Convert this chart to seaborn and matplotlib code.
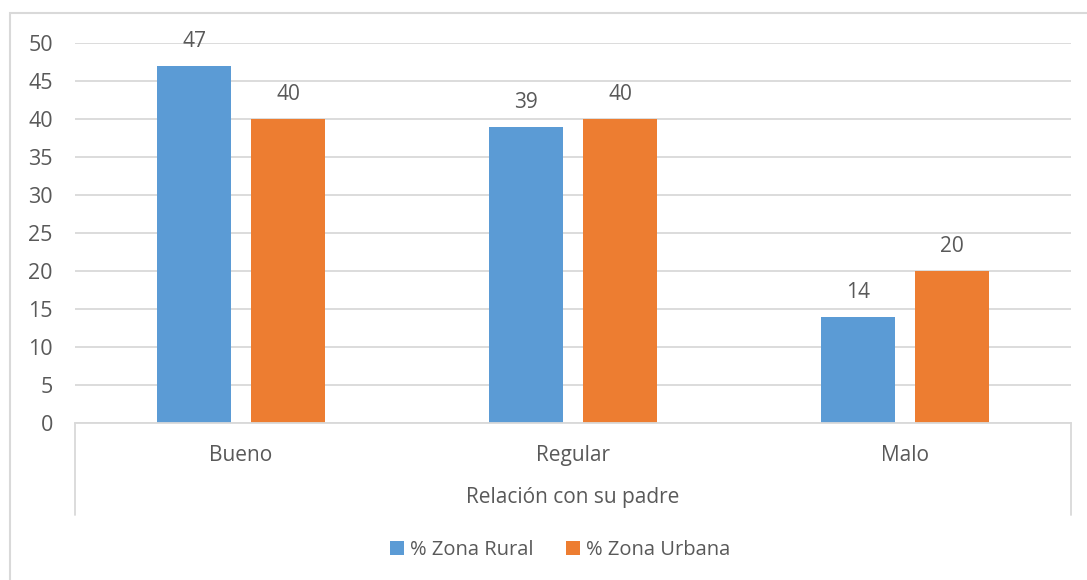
import matplotlib
matplotlib.use("Agg")
import matplotlib.pyplot as plt
import seaborn as sns
import pandas as pd
from matplotlib.patches import Rectangle, Patch
from matplotlib.lines import Line2D

categories = ["Bueno", "Regular", "Malo"]
series_names = ["% Zona Rural", "% Zona Urbana"]
rural = [47, 39, 14]
urbana = [40, 40, 20]
y_ticks = [0, 5, 10, 15, 20, 25, 30, 35, 40, 45, 50]
axis_title = "Relación con su padre"

colors = ["#5B9BD5", "#ED7D31"]
text_color = "#595959"
grid_color = "#D9D9D9"

df = pd.DataFrame({
    "cat": categories * 2,
    "serie": [series_names[0]] * 3 + [series_names[1]] * 3,
    "valor": rural + urbana,
})

sns.set_theme(style="white")
plt.rcParams["font.family"] = ["Open Sans", "DejaVu Sans"]

W, H = 1087, 580
fig = plt.figure(figsize=(W / 100, H / 100), dpi=100)
ax = fig.add_axes([75 / W, 1 - 423 / H, (1071 - 75) / W, (423 - 43) / H])

sns.barplot(data=df, x="cat", y="valor", hue="serie", order=categories,
            hue_order=series_names, palette=colors, width=0.566, gap=0.213,
            saturation=1, legend=False, ax=ax, edgecolor="none")

for cont in ax.containers:
    ax.bar_label(cont, fmt="%d", padding=10, fontsize=15, color=text_color)

ax.set_ylim(0, 50)
ax.set_xlim(-0.5, 2.5)
ax.set_yticks(y_ticks)
ax.yaxis.grid(True, color=grid_color, linewidth=1.3)
ax.set_axisbelow(True)
for side in ["top", "right", "left"]:
    ax.spines[side].set_visible(False)
ax.spines["bottom"].set_color(grid_color)
ax.spines["bottom"].set_linewidth(1.3)
ax.tick_params(axis="y", length=0, pad=16, labelsize=15.5, labelcolor=text_color)
ax.tick_params(axis="x", length=0, pad=16, labelsize=15, labelcolor=text_color)
ax.set_xlabel("")
ax.set_ylabel("")

# group-level axis: boundary lines and title
for xf in [75 / W, 1071 / W]:
    fig.add_artist(Line2D([xf, xf], [1 - 423 / H, 1 - 515 / H],
                          transform=fig.transFigure, color=grid_color, lw=1.3))
fig.text((75 + 1071) / 2 / W, 1 - 497 / H, axis_title, ha="center", va="center",
         fontsize=15, color=text_color)

handles = [Patch(facecolor=c, edgecolor="none") for c in colors]
fig.legend(handles, series_names, loc="center", bbox_to_anchor=(560 / W, 1 - 550 / H),
           ncol=2, frameon=False, fontsize=14.5, labelcolor=text_color,
           handlelength=0.7, handleheight=0.7, handletextpad=0.3, columnspacing=1.6)

# chart-area border
fig.add_artist(Rectangle((10 / W, -0.05), 1.1, 1 - 13 / H + 0.05,
                         transform=fig.transFigure, fill=False,
                         edgecolor=grid_color, lw=1.5))

fig.savefig("out.png", dpi=100)
